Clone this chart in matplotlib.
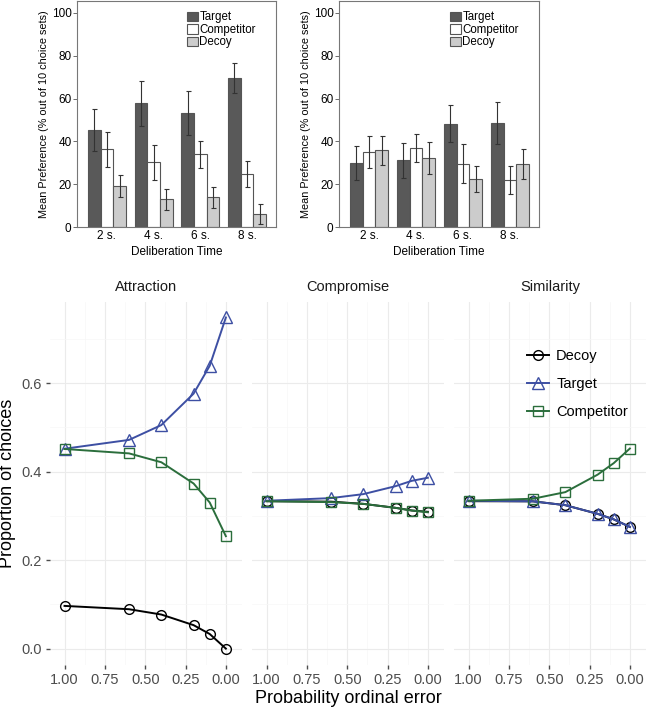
import numpy as np
import matplotlib
matplotlib.use("Agg")
import matplotlib.pyplot as plt

# --- top: bar charts -------------------------------------------------------
times = ["2 s.", "4 s.", "6 s.", "8 s."]
bar_series = ["Target", "Competitor", "Decoy"]

left_target = [45.3, 57.8, 53.3, 69.7]
left_competitor = [36.3, 30.3, 33.9, 24.8]
left_decoy = [19.3, 12.9, 13.8, 6.2]
left_target_err = [9.8, 10.5, 10.3, 7.0]
left_competitor_err = [8.3, 8.2, 6.5, 5.9]
left_decoy_err = [5.2, 4.8, 5.0, 4.7]

right_target = [29.8, 31.1, 48.3, 48.6]
right_competitor = [34.9, 37.0, 29.5, 22.0]
right_decoy = [35.9, 32.3, 22.4, 29.5]
right_target_err = [8.0, 8.1, 8.8, 9.9]
right_competitor_err = [7.4, 6.5, 9.1, 6.6]
right_decoy_err = [6.8, 7.5, 6.2, 7.1]

yticks_bar = [0, 20, 40, 60, 80, 100]

# --- bottom: model predictions --------------------------------------------
p_err = [1.0, 0.6, 0.4, 0.2, 0.1, 0.0]
effects = ["Attraction", "Compromise", "Similarity"]

attr_decoy = [0.0965, 0.089, 0.077, 0.053, 0.033, 0.0]
attr_target = [0.4515, 0.4715, 0.505, 0.576, 0.639, 0.748]
attr_competitor = [0.451, 0.441, 0.421, 0.373, 0.330, 0.254]

comp_decoy = [0.333, 0.332, 0.327, 0.318, 0.312, 0.309]
comp_target = [0.334, 0.340, 0.349, 0.367, 0.379, 0.386]
comp_competitor = [0.333, 0.331, 0.327, 0.318, 0.312, 0.308]

sim_decoy = [0.333, 0.3327, 0.324, 0.3045, 0.292, 0.275]
sim_target = [0.334, 0.3327, 0.324, 0.3045, 0.292, 0.275]
sim_competitor = [0.334, 0.3386, 0.3535, 0.393, 0.419, 0.452]

W, H = 647, 711
fig = plt.figure(figsize=(W / 100, H / 100), dpi=100)
plt.rcParams['font.family'] = ['Liberation Sans', 'DejaVu Sans']

bar_colors = ["#595959", "#ffffff", "#cccccc"]


def bar_panel(rect, vals, errs):
    ax = fig.add_axes(rect)
    x = np.arange(len(times))
    w = 0.27
    for i, (v, e) in enumerate(zip(vals, errs)):
        ax.bar(x + (i - 1) * w, v, w, color=bar_colors[i], edgecolor="#555555",
               linewidth=0.8, label=bar_series[i], zorder=2)
        ax.errorbar(x + (i - 1) * w, v, yerr=e, fmt="none", ecolor="#333333",
                    elinewidth=0.8, capsize=1.8, capthick=0.8, zorder=3)
    ax.set_xlim(-0.64, 3.62)
    ax.set_ylim(0, 105.6)
    ax.set_xticks(x)
    ax.set_xticklabels(times, fontsize=8.5)
    ax.tick_params(axis="x", length=0, pad=2)
    ax.set_yticks(yticks_bar)
    ax.tick_params(axis="y", labelsize=8.5, length=3, width=0.6, pad=1, color="#555555")
    for s in ax.spines.values():
        s.set_color("#777777")
        s.set_linewidth(0.8)
    ax.set_xlabel("Deliberation Time", fontsize=8.5, labelpad=3)
    ax.set_ylabel("Mean Preference (% out of 10 choice sets)", fontsize=7.8, labelpad=2)
    ax.legend(loc="upper right", bbox_to_anchor=(0.94, 0.99), frameon=False,
              fontsize=8.3, handlelength=0.9, handleheight=0.9,
              handletextpad=0.15, labelspacing=0.05, borderaxespad=0.3)
    return ax


bar_panel([77 / W, 1 - 227 / H, 199 / W, 226 / H],
          [left_target, left_competitor, left_decoy],
          [left_target_err, left_competitor_err, left_decoy_err])
bar_panel([339 / W, 1 - 227 / H, 200 / W, 226 / H],
          [right_target, right_competitor, right_decoy],
          [right_target_err, right_competitor_err, right_decoy_err])

# --- bottom facets ---------------------------------------------------------
line_series = [
    ("Decoy", "o", "black", [attr_decoy, comp_decoy, sim_decoy]),
    ("Target", "^", "#3d4fa3", [attr_target, comp_target, sim_target]),
    ("Competitor", "s", "#2b6e3c", [attr_competitor, comp_competitor, sim_competitor]),
]

lefts = [50, 252, 454]
axes = []
for k, name in enumerate(effects):
    ax = fig.add_axes([lefts[k] / W, 1 - 665 / H, 192 / W, 363 / H])
    axes.append(ax)
    for lab, mk, col, data in line_series:
        ax.plot(p_err, data[k], color=col, marker=mk, markersize=8.5 if mk == "^" else 7,
                markerfacecolor="none", markeredgecolor=col, markeredgewidth=1.0,
                linewidth=1.4, label=lab, zorder=3)
    ax.set_xlim(1.09, -0.1)
    ax.set_ylim(-0.037, 0.783)
    ax.set_xticks([1.0, 0.75, 0.5, 0.25, 0.0])
    ax.set_xticklabels(["1.00", "0.75", "0.50", "0.25", "0.00"])
    ax.set_yticks([0.0, 0.2, 0.4, 0.6])
    ax.set_yticks([0.1, 0.3, 0.5, 0.7], minor=True)
    ax.set_xticks([0.875, 0.625, 0.375, 0.125], minor=True)
    ax.grid(True, which="major", color="#ebebeb", linewidth=0.8)
    ax.grid(True, which="minor", color="#f7f7f7", linewidth=0.5)
    ax.set_axisbelow(True)
    for s in ax.spines.values():
        s.set_visible(False)
    ax.tick_params(axis="both", which="major", labelsize=10.5, colors="#4d4d4d",
                   length=3, width=1.0, pad=3)
    ax.tick_params(axis="both", which="minor", length=0)
    ax.set_title(name, fontsize=10.5, pad=8, color="#1a1a1a")
    if k == 0:
        ax.set_yticklabels(["0.0", "0.2", "0.4", "0.6"])
        ax.set_ylabel("Proportion of choices", fontsize=13, labelpad=4)
    else:
        ax.tick_params(axis="y", which="major", length=0, labelleft=False)
    if k == 1:
        ax.set_xlabel("Probability ordinal error", fontsize=13, labelpad=2)

axes[2].legend(loc="upper left", bbox_to_anchor=(0.38, 0.87), frameon=False,
               fontsize=10.5, handlelength=1.5, labelspacing=0.95, handletextpad=0.5,
               borderpad=0, borderaxespad=0)

fig.savefig("out.png", dpi=100)
